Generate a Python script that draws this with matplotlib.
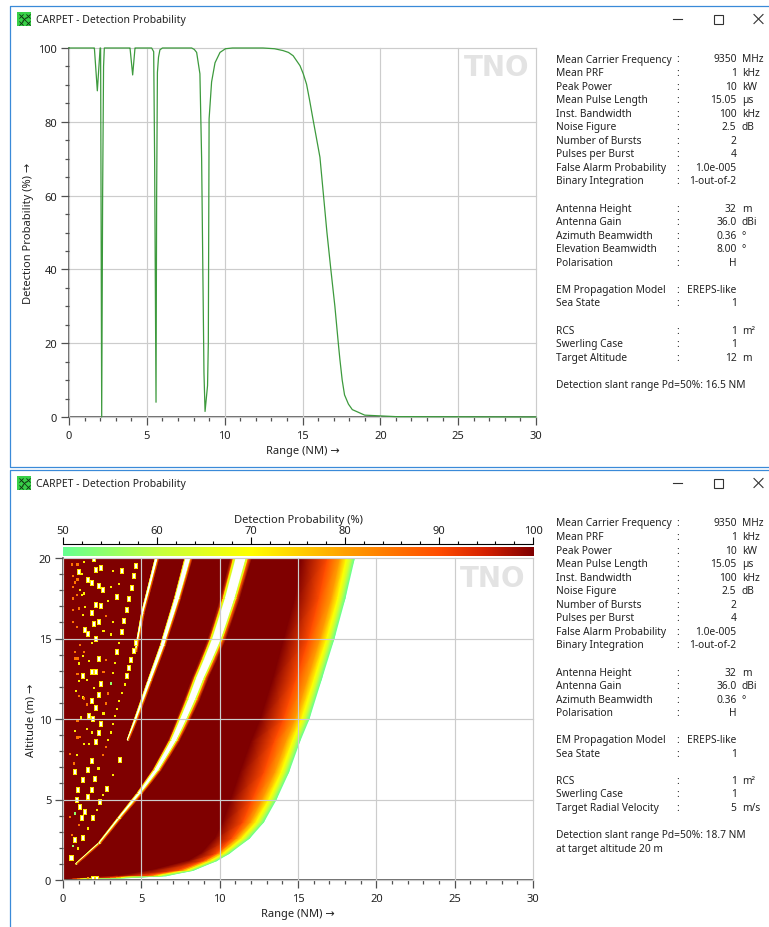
#!/usr/bin/env python3

import numpy as np
import matplotlib
matplotlib.use('Agg')
import matplotlib.pyplot as plt
import matplotlib.ticker as tick
from matplotlib.colors import LinearSegmentedColormap, Normalize
from matplotlib.markers import MarkerStyle
from matplotlib.patches import Rectangle
from matplotlib.transforms import Affine2D

plt.rcParams['font.family'] = ['Noto Sans', 'DejaVu Sans']
plt.rcParams['font.size'] = 7.35

W, H = 769, 928
label_size = 8
color_line = '#3d9a3d'
color_grid = '#cccccc'
color_axis = '#505050'
color_text = '#222222'
color_border = '#3a8ad8'
color_mark = '#e3e3e3'

# top chart: detection probability at 12 m
curve_range = [0, 1.6, 1.63, 1.82, 2.0, 2.03, 2.1, 2.16, 2.22, 2.27, 3.9, 3.92, 4.09, 4.24, 4.26,
               5.31, 5.44, 5.5, 5.59, 5.63, 5.68, 5.75, 5.84, 6.0, 7.88, 8.05, 8.2, 8.41, 8.52, 8.67,
               8.74, 8.9, 8.95, 9.0, 9.16, 9.38, 9.7, 10.05, 10.5, 12.46, 13.2, 13.75, 14.1, 14.4, 14.84,
               15.05, 15.26, 15.45, 15.67, 15.9, 16.12, 16.35, 16.57, 16.82, 17.08, 17.3, 17.4, 17.55, 17.7,
               17.95, 18.2, 19, 21, 30]
curve_pd = [100, 100, 100, 88.4, 100, 100, 0, 60, 95, 100, 100, 100, 92.7, 100, 100,
            100, 99, 70, 4, 60, 93.4, 97.5, 99.5, 100, 100, 99.6, 98.8, 93, 70, 12,
            1.5, 8.5, 20, 80.8, 90.8, 96, 98.8, 99.8, 100, 100, 99.8, 99.3, 98.8, 97.9, 95.2,
            93, 90.2, 86, 80.8, 75.5, 70.4, 60, 50, 40, 30, 20, 15.7, 10, 6,
            3.5, 2, 0.5, 0.1, 0]

# bottom chart: range (NM) where Pd crosses each level, per altitude row
alt_rows = [0, 0.05, 0.15, 0.27, 0.6, 1.2, 1.65, 2.6, 3.6, 5, 6.7, 8.6, 10, 12.5, 15, 17.5, 20]
range_pd100 = [0, 0.2, 1.5, 3.5, 5.6, 8.0, 8.8, 9.7, 10.2, 10.7, 11.3, 12.0, 12.6, 13.4, 14.1, 14.8, 15.2]
range_pd90 = [0.05, 0.6, 3.0, 5.4, 7.4, 9.0, 9.8, 10.8, 11.5, 12.1, 12.85, 13.5, 14.1, 14.9, 15.7, 16.35, 16.9]
range_pd80 = [0.1, 0.9, 3.4, 5.8, 7.7, 9.2, 10.0, 11.15, 12.0, 12.75, 13.55, 14.25, 14.85, 15.65, 16.45, 17.15, 17.7]
range_pd70 = [0.2, 1.1, 3.7, 6.1, 7.95, 9.45, 10.25, 11.45, 12.35, 13.15, 13.95, 14.65, 15.25, 16.05, 16.85, 17.55, 18.1]
range_pd60 = [0.3, 1.3, 3.95, 6.35, 8.15, 9.65, 10.45, 11.7, 12.6, 13.4, 14.2, 14.9, 15.5, 16.3, 17.1, 17.8, 18.4]
range_pd50 = [0.4, 1.5, 4.25, 6.6, 8.3, 9.8, 10.6, 11.9, 12.8, 13.6, 14.4, 15.1, 15.7, 16.5, 17.3, 18.0, 18.6]
fade_levels = [100, 90, 80, 70, 60, 50]

# the three continuous nulls: centre, half width of the white core, half width of the halo
null1_alt = [1, 2.3, 3.85, 5.4, 6.85, 8.7, 10, 11.25, 12.5, 13.75, 15, 17.5, 20]
null1_range = [0.85, 2.34, 3.6, 4.9, 6.0, 7.1, 7.7, 8.25, 8.74, 9.3, 9.83, 10.66, 11.36]
null1_core = [0.02, 0.03, 0.05, 0.08, 0.11, 0.15, 0.18, 0.2, 0.22, 0.24, 0.26, 0.28, 0.3]
null1_halo = [0.07, 0.11, 0.15, 0.22, 0.3, 0.38, 0.45, 0.5, 0.52, 0.55, 0.58, 0.62, 0.68]

null2_alt = [8.7, 10, 12.4, 14.6, 15, 17.5, 20]
null2_range = [4.15, 4.66, 5.55, 6.38, 6.5, 7.3, 8.0]
null2_core = [0.03, 0.05, 0.08, 0.1, 0.1, 0.12, 0.14]
null2_halo = [0.07, 0.13, 0.17, 0.2, 0.2, 0.24, 0.28]

null3_alt = [14.2, 15, 16.6, 20]
null3_range = [4.66, 4.8, 5.1, 6.0]
null3_core = [0.03, 0.04, 0.05, 0.07]
null3_halo = [0.07, 0.09, 0.11, 0.14]

# isolated spots close to the radar; Pd below 50 comes out white
dot_range = [1.96, 0.92, 0.55, 1.34, 2.11, 2.43, 3.17, 3.79, 4.66, 4.53, 1.04, 1.19, 0.62, 0.92, 1.6, 1.83,
             0.75, 0.62, 2.28, 3.04, 3.6, 4.38, 1.09, 2.58, 1.36, 0.87, 1.19, 0.62, 3.47, 4.24, 2.11, 2.85,
             2.43, 1.83, 1.04, 1.41, 0.66, 1.26, 4.07, 2.72, 0.62, 0.87, 2.28, 1.98, 3.17, 3.89, 1.41, 1.62,
             2.58, 3.79, 3.04, 2.11, 1.83, 1.09, 3.6, 4.66, 0.77, 1.34, 3.47, 4.53,
             0.77, 0.92, 1.26, 1.66, 2.28, 2.72, 3.32, 4.36, 1.04, 0.92, 1.3, 1.04, 1.51, 1.83, 2.11, 2.58,
             3.17, 4.2, 4.07, 2.43, 3.04, 3.94, 1.98, 0.83, 3.79, 2.28, 2.85, 1.04, 1.26, 1.36, 1.83, 3.6,
             1.51, 2.72, 2.11, 3.47, 2.58, 1.13, 1.66, 1.94, 3.32, 0.92, 2.43, 3.17, 1.51, 0.77, 1.83, 2.28,
             3.04, 1.09, 0.92, 2.85, 2.11, 1.36, 1.66, 2.72,
             1.83, 2.57, 0.77, 1.62, 2.26, 1.3, 2.04, 0.98, 1.83, 1.62, 0.87, 1.09, 1.4, 0.45, 0.77, 1.19,
             1.04, 0.55, 0.77, 0.62, 0.49, 0.87, 0.7, 0.45,
             3.64, 3.21, 2.79, 2.57, 2.36, 2.15, 1.94, 1.62, 1.3, 0.98, 0.55, 1.9, 2.15, 1.6]
dot_alt = [19.91, 19.6, 19.6, 19.76, 19.25, 19.39, 19.2, 19.18, 19.49, 18.87, 19.1, 19.0, 18.89, 18.66, 18.66, 18.46,
           18.48, 18.21, 18.27, 18.21, 18.38, 18.15, 18.0, 18.0, 17.8, 17.69, 17.69, 17.48, 17.59, 17.48, 17.07, 17.32,
           17.01, 16.6, 16.86, 16.97, 16.76, 16.45, 16.76, 16.41, 16.04, 15.73, 16.04, 15.93, 16.0, 16.08, 15.52, 15.31,
           15.46, 15.41, 15.25, 15.0, 14.73, 14.59, 14.73, 14.73, 14.17, 14.17, 14.17, 14.23,
           13.76, 13.76, 13.92, 13.59, 13.72, 13.65, 13.49, 13.65, 13.45, 12.78, 12.66, 12.37, 12.41, 12.93, 12.89, 12.93,
           12.85, 13.18, 12.66, 12.16, 12.2, 12.14, 11.94, 11.75, 11.63, 11.48, 11.58, 11.42, 11.34, 11.27, 11.11, 11.13,
           10.9, 10.96, 10.71, 10.61, 10.34, 10.09, 10.18, 10.03, 10.18, 9.87, 9.72, 9.68, 9.37, 9.24, 9.16, 9.16,
           9.16, 8.89, 8.85, 8.69, 8.58, 8.46, 8.46, 8.27,
           7.38, 7.75, 6.72, 6.82, 6.93, 6.2, 6.3, 5.58, 5.58, 5.17, 4.96, 4.55, 4.24, 3.92, 4.13, 3.82,
           3.41, 2.79, 2.48, 2.12, 1.38, 7.75, 7.24, 7.82,
           7.44, 6.51, 5.68, 5.27, 4.86, 4.34, 3.82, 3.2, 2.58, 1.96, 1.34, 0.06, 0.06, 0.1]
dot_pd = [45, 85, 85, 72, 45, 45, 72, 45, 45, 45, 45, 72, 85, 85, 45, 45,
          85, 85, 45, 72, 72, 45, 72, 45, 72, 85, 72, 85, 45, 45, 45, 72,
          45, 45, 85, 72, 85, 72, 45, 85, 85, 85, 45, 45, 72, 45, 45, 45,
          72, 45, 72, 45, 72, 85, 72, 45, 85, 85, 45, 45,
          85, 85, 72, 72, 45, 85, 72, 45, 72, 85, 45, 72, 72, 45, 45, 85,
          72, 45, 45, 45, 55, 72, 72, 72, 72, 45, 85, 85, 72, 85, 45, 72,
          85, 85, 45, 72, 72, 72, 45, 45, 72, 85, 45, 72, 72, 72, 72, 45,
          72, 85, 85, 72, 45, 72, 72, 85,
          45, 85, 45, 45, 72, 45, 45, 45, 45, 45, 45, 45, 45, 85, 55, 45,
          85, 85, 45, 55, 45, 72, 85, 85,
          45, 72, 45, 72, 45, 72, 45, 72, 45, 72, 45, 45, 45, 80]

# parameter tables next to the charts
top_labels = ['Mean Carrier Frequency', 'Mean PRF', 'Peak Power', 'Mean Pulse Length', 'Inst. Bandwidth',
              'Noise Figure', 'Number of Bursts', 'Pulses per Burst', 'False Alarm Probability', 'Binary Integration',
              None, 'Antenna Height', 'Antenna Gain', 'Azimuth Beamwidth', 'Elevation Beamwidth', 'Polarisation',
              None, 'EM Propagation Model', 'Sea State',
              None, 'RCS', 'Swerling Case', 'Target Altitude']
top_values = ['9350', '1', '10', '15.05', '100', '2.5', '2', '4', '1.0e-005', '1-out-of-2',
              None, '32', '36.0', '0.36', '8.00', 'H',
              None, 'EREPS-like', '1',
              None, '1', '1', '12']
top_units = ['MHz', 'kHz', 'kW', 'µs', 'kHz', 'dB', '', '', '', '',
             None, 'm', 'dBi', '°', '°', '',
             None, '', '',
             None, 'm²', '', 'm']
top_notes = ['Detection slant range Pd=50%: 16.5 NM']

bottom_labels = ['Mean Carrier Frequency', 'Mean PRF', 'Peak Power', 'Mean Pulse Length', 'Inst. Bandwidth',
                 'Noise Figure', 'Number of Bursts', 'Pulses per Burst', 'False Alarm Probability', 'Binary Integration',
                 None, 'Antenna Height', 'Antenna Gain', 'Azimuth Beamwidth', 'Polarisation',
                 None, 'EM Propagation Model', 'Sea State',
                 None, 'RCS', 'Swerling Case', 'Target Radial Velocity']
bottom_values = ['9350', '1', '10', '15.05', '100', '2.5', '2', '4', '1.0e-005', '1-out-of-2',
                 None, '32', '36.0', '0.36', 'H',
                 None, 'EREPS-like', '1',
                 None, '1', '1', '5']
bottom_units = ['MHz', 'kHz', 'kW', 'µs', 'kHz', 'dB', '', '', '', '',
                None, 'm', 'dBi', '°', '',
                None, '', '',
                None, 'm²', '', 'm/s']
bottom_notes = ['Detection slant range Pd=50%: 18.7 NM', 'at target altitude 20 m']

cmap = LinearSegmentedColormap.from_list('pd', [
    (0.0, '#66ff90'), (0.2, '#c4ff40'), (0.4, '#ffff00'), (0.6, '#ffa000'),
    (0.8, '#ff4c00'), (0.9, '#d42000'), (1.0, '#7f0000')])
cmap.set_under('white')
norm = Normalize(50, 100)


def axes_px(left, top, right, bottom):
    return fig.add_axes([left / W, 1 - bottom / H, (right - left) / W, (bottom - top) / H])


def style_axes(ax):
    ax.spines[['top', 'right']].set_visible(False)
    ax.spines[['left', 'bottom']].set_color(color_axis)
    ax.spines[['left', 'bottom']].set_linewidth(1.2)
    ax.tick_params(which='both', colors=color_axis, labelcolor=color_text, width=0.9, labelsize=label_size)
    ax.tick_params(which='major', length=5.5)
    ax.tick_params(which='minor', length=2.8)
    ax.tick_params(axis='x', pad=4)
    ax.tick_params(axis='y', pad=3)
    ax.xaxis.set_major_locator(tick.MultipleLocator(5))
    ax.xaxis.set_minor_locator(tick.MultipleLocator(1))
    ax.grid(True, which='major', color=color_grid, linewidth=0.85)
    ax.set_axisbelow(False)
    for l in ax.get_xgridlines() + ax.get_ygridlines():
        l.set_clip_on(False)
    ax.set_facecolor('none')


def draw_null(ax, alt, centre, core, halo):
    alt, centre, core, halo = map(np.array, (alt, centre, core, halo))
    offsets = [-halo, -0.72 * halo, -0.42 * halo - 0.58 * core, -1.15 * core, -core,
               core, 1.15 * core, 0.42 * halo + 0.58 * core, 0.72 * halo, halo]
    xs = np.column_stack([centre + o for o in offsets])
    ys = np.column_stack([alt] * len(offsets))
    levels = np.tile([100, 88, 72, 62, 45, 45, 62, 72, 88, 100], (len(alt), 1))
    ax.pcolormesh(xs, ys, levels, shading='gouraud', cmap=cmap, norm=norm, zorder=1.2)


def draw_panel_text(chrome, labels, values, units, notes, y0):
    step = 13.55
    y = y0
    for label, value, unit in zip(labels, values, units):
        if label is not None:
            chrome.text(556, y, label, ha='left', va='center', color=color_text)
            chrome.text(678, y, ':', ha='center', va='center', color=color_text)
            chrome.text(736.5, y, value, ha='right', va='center', color=color_text)
            if unit:
                chrome.text(742, y, unit, ha='left', va='center', color=color_text)
        y += step
    y += step
    for note in notes:
        chrome.text(556, y, note, ha='left', va='center', color=color_text)
        y += step


def draw_window(chrome, top, bottom):
    chrome.plot([769, 9.5, 9.5, 769], [top, top, bottom, bottom], color=color_border, linewidth=0.9, clip_on=False)
    iy = top + 13.5
    chrome.add_patch(Rectangle((17, iy - 7), 14, 14, facecolor='#38d048', edgecolor='none'))
    chrome.scatter([20.5, 27.5, 20.5, 27.5, 24], [iy - 3.5, iy - 3.5, iy + 3.5, iy + 3.5, iy],
                   marker='x', s=9, color='#103010', linewidths=0.6)
    chrome.text(36, iy + 0.5, 'CARPET - Detection Probability', ha='left', va='center', color=color_text, fontsize=7.5)
    chrome.plot([673, 682], [iy, iy], color='#333333', linewidth=0.8)
    chrome.add_patch(Rectangle((713.5, iy - 4.5), 9, 9, facecolor='none', edgecolor='#333333', linewidth=0.8))
    chrome.plot([754, 763], [iy - 4.5, iy + 4.5], color='#333333', linewidth=0.8)
    chrome.plot([754, 763], [iy + 4.5, iy - 4.5], color='#333333', linewidth=0.8)


fig = plt.figure(figsize=(W / 100, H / 100), dpi=100, facecolor='white')

chrome = fig.add_axes([0, 0, 1, 1], zorder=0)
chrome.set_xlim(0, W)
chrome.set_ylim(H, 0)
chrome.axis('off')
draw_window(chrome, 6.5, 468)
draw_window(chrome, 470.5, 940)
draw_panel_text(chrome, top_labels, top_values, top_units, top_notes, 60)
draw_panel_text(chrome, bottom_labels, bottom_values, bottom_units, bottom_notes, 524)

# top chart
top = axes_px(69, 49, 536, 418)
top.set_zorder(1)
top.plot(curve_range, curve_pd, color=color_line, linewidth=0.9, zorder=3, clip_on=False)
top.set_xlim(0, 30)
top.set_ylim(0, 100)
top.yaxis.set_major_locator(tick.MultipleLocator(20))
top.yaxis.set_minor_locator(tick.MultipleLocator(5))
style_axes(top)
top.set_xlabel('Range (NM) →', color=color_text, labelpad=3, fontsize=label_size)
top.set_ylabel('Detection Probability (%) →', color=color_text, labelpad=3, fontsize=label_size)
top.text(497, 68.5, 'TNO', transform=chrome.transData, ha='center', va='center', family='DejaVu Sans',
         fontsize=20, fontweight='bold', color=color_mark, zorder=0.5)

# bottom chart
bot = axes_px(63, 559, 533, 881)
bot.set_zorder(1)
bot.set_xlim(0, 30)
bot.set_ylim(0, 20)
bot.fill_betweenx(alt_rows, 0, range_pd100, color=cmap(1.0), linewidth=0, zorder=0.8)
fade_ranges = np.column_stack([range_pd100, range_pd90, range_pd80, range_pd70, range_pd60, range_pd50])
fade_alts = np.column_stack([alt_rows] * len(fade_levels))
fade_pd = np.tile(fade_levels, (len(alt_rows), 1))
bot.pcolormesh(fade_ranges, fade_alts, fade_pd, shading='gouraud', cmap=cmap, norm=norm, zorder=0.9)
draw_null(bot, null1_alt, null1_range, null1_core, null1_halo)
draw_null(bot, null2_alt, null2_range, null2_core, null2_halo)
draw_null(bot, null3_alt, null3_range, null3_core, null3_halo)

dot_range = np.array(dot_range)
dot_alt = np.array(dot_alt)
dot_pd = np.array(dot_pd)
tall = MarkerStyle('s', transform=Affine2D().scale(0.9, 1.5))
white = dot_pd < 50
bot.scatter(dot_range[white], dot_alt[white], s=6, marker=tall, c=[cmap(0.45)], linewidths=0, zorder=1.5)
bot.scatter(dot_range[white], dot_alt[white], s=3.6, marker=tall, c='white', linewidths=0, zorder=1.6)
bot.scatter(dot_range[~white], dot_alt[~white], s=2.5, marker='s', c=dot_pd[~white], cmap=cmap, norm=norm,
            linewidths=0, zorder=1.6)

bot.yaxis.set_major_locator(tick.MultipleLocator(5))
bot.yaxis.set_minor_locator(tick.MultipleLocator(1))
style_axes(bot)
bot.set_xlabel('Range (NM) →', color=color_text, labelpad=3, fontsize=label_size)
bot.set_ylabel('Altitude (m) →', color=color_text, labelpad=1.5, fontsize=label_size)
bot.text(493, 579, 'TNO', transform=chrome.transData, ha='center', va='center', family='DejaVu Sans',
         fontsize=20, fontweight='bold', color=color_mark, zorder=0.5)

# colour scale above the bottom chart
bar = axes_px(63, 548, 533, 557)
bar.imshow(np.linspace(50, 100, 256)[None, :], aspect='auto', cmap=cmap, norm=norm, extent=(50, 100, 0, 1))
bar.axis('off')

scale = axes_px(63, 545, 533, 545.01)
scale.set_xlim(50, 100)
scale.set_yticks([])
scale.spines[['left', 'right', 'bottom']].set_visible(False)
scale.spines['top'].set_linewidth(0.8)
scale.xaxis.tick_top()
scale.xaxis.set_label_position('top')
scale.xaxis.set_major_locator(tick.MultipleLocator(10))
scale.xaxis.set_minor_locator(tick.MultipleLocator(2))
scale.tick_params(which='both', width=0.8, labelcolor=color_text, pad=1, labelsize=label_size)
scale.tick_params(which='major', length=5)
scale.tick_params(which='minor', length=2.5)
scale.set_xlabel('Detection Probability (%)', color=color_text, labelpad=2, fontsize=label_size)

fig.savefig('out.png', dpi=100)
